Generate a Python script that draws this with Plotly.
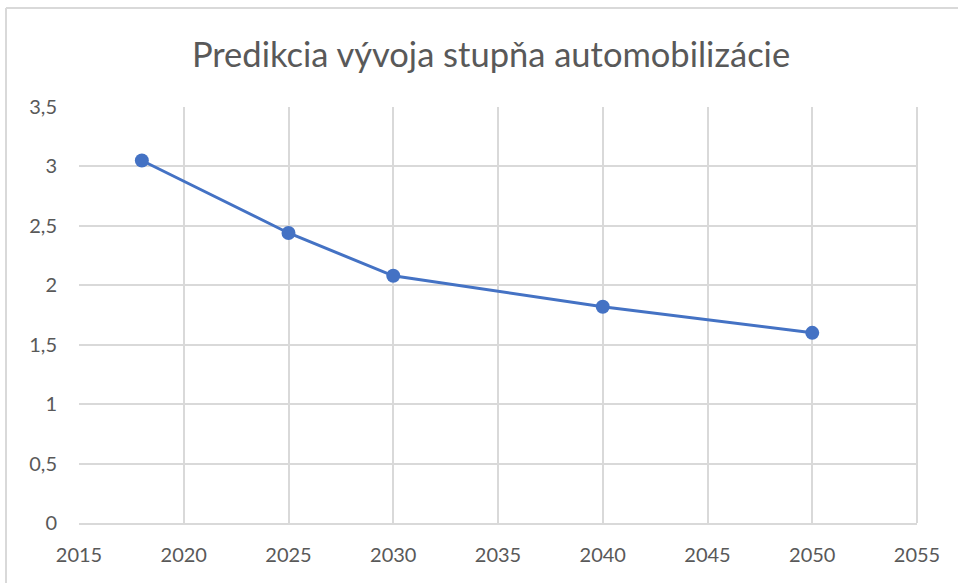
import plotly.graph_objects as go

years = [2018, 2025, 2030, 2040, 2050]
values = [3.05, 2.44, 2.08, 1.82, 1.60]
title = "Predikcia vývoja stupňa automobilizácie"

W, H = 958, 583
L, R, T, B = 79, 41, 107, 60
pw = W - L - R
ph = H - T - B

fig = go.Figure()
fig.add_trace(go.Scatter(
    x=years, y=values, mode="lines+markers",
    line=dict(color="#4472C4", width=3),
    marker=dict(color="#4472C4", size=14),
    cliponaxis=False, showlegend=False,
))

def px_x(p):
    return (p - L) / pw

def px_y(p):
    return (H - B - p) / ph

FONT = "Lato, 'Open Sans', sans-serif"

fig.update_layout(
    width=W, height=H,
    margin=dict(l=L, r=R, t=T, b=B, pad=0),
    paper_bgcolor="white", plot_bgcolor="white",
    separators=",.",
    font=dict(family=FONT, color="#595959", size=20),
    title=dict(text=title, x=px_x(491), xref="paper", xanchor="center",
               y=1 - 55 / H, yanchor="middle",
               font=dict(size=34.5, color="#595959", family=FONT)),
    xaxis=dict(range=[2015, 2055], dtick=5, tick0=2015, showgrid=True,
               gridcolor="#D9D9D9", gridwidth=2, zeroline=False,
               showline=True, linecolor="#D9D9D9", linewidth=2,
               ticks="", ticklabelstandoff=13, automargin=False,
               tickfont=dict(size=20), fixedrange=True),
    yaxis=dict(range=[0, 3.5], dtick=0.5, showgrid=True, gridcolor="#D9D9D9",
               gridwidth=2, zeroline=False, showline=False, ticks="",
               ticklabelstandoff=21, automargin=False,
               tickfont=dict(size=20), fixedrange=True),
    shapes=[
        dict(type="line", xref="paper", yref="paper",
             x0=px_x(6), x1=px_x(960), y0=px_y(8), y1=px_y(8),
             line=dict(color="#D9D9D9", width=2)),
        dict(type="line", xref="paper", yref="paper",
             x0=px_x(6), x1=px_x(6), y0=px_y(8), y1=px_y(590),
             line=dict(color="#D9D9D9", width=2)),
        dict(type="line", xref="paper", yref="paper",
             x0=1, x1=1, y0=0, y1=1,
             line=dict(color="#D9D9D9", width=2)),
    ],
)

fig.write_html(
    "out.html",
    config={"displayModeBar": False},
    post_script="document.body.style.margin='0';document.body.style.overflow='hidden';",
)
